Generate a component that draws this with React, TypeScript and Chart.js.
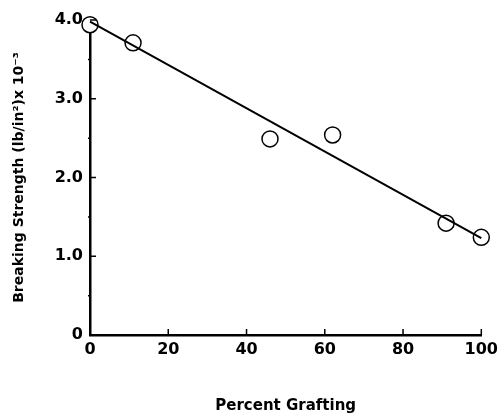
import React, { useEffect, useRef } from "react";
import { Chart, registerables } from "chart.js";

Chart.register(...registerables);

const grafting = [0, 11, 46, 62, 91, 100];
const strength = [3.94, 3.71, 2.49, 2.54, 1.42, 1.24];
const fitX = [0, 100];
const fitY = [3.98, 1.23];
const xTicks = [0, 20, 40, 60, 80, 100];
const yTicks = [0, 1, 2, 3, 4];
const yMinor = [0.5, 1.5, 2.5, 3.5];
const xTitle = "Percent Grafting";
const yTitle = "Breaking Strength (lb/in²)x 10⁻³";

const innerTicks = {
  id: "innerTicks",
  afterDraw(chart: any) {
    const ctx = chart.ctx;
    const xs = chart.scales.x;
    const ys = chart.scales.y;
    const left = chart.chartArea.left;
    const bottom = chart.chartArea.bottom;
    ctx.save();
    ctx.strokeStyle = "#000";
    ctx.lineWidth = 1.5;
    ctx.beginPath();
    xTicks.forEach((v) => {
      if (v === 0) return;
      const px = xs.getPixelForValue(v);
      ctx.moveTo(px, bottom);
      ctx.lineTo(px, bottom - 6);
    });
    yTicks.forEach((v) => {
      if (v === 0) return;
      const py = ys.getPixelForValue(v);
      ctx.moveTo(left, py);
      ctx.lineTo(left + 6, py);
    });
    yMinor.forEach((v) => {
      const py = ys.getPixelForValue(v);
      ctx.moveTo(left, py);
      ctx.lineTo(left - 2, py);
    });
    ctx.stroke();
    ctx.restore();
  },
};

export default function App() {
  const ref = useRef<HTMLCanvasElement | null>(null);
  useEffect(() => {
    if (!ref.current) return;
    const font = "'DejaVu Sans', sans-serif";
    const chart = new Chart(ref.current, {
      type: "scatter",
      data: {
        datasets: [
          {
            label: "fit",
            data: fitX.map((x, i) => ({ x, y: fitY[i] })),
            showLine: true,
            borderColor: "#000",
            borderWidth: 2,
            pointRadius: 0,
            clip: false as any,
          },
          {
            label: "data",
            data: grafting.map((x, i) => ({ x, y: strength[i] })),
            pointRadius: 8,
            pointBackgroundColor: "#fff",
            pointBorderColor: "#000",
            pointBorderWidth: 1.5,
            clip: false as any,
          },
        ],
      },
      options: {
        animation: false,
        responsive: false,
        layout: { padding: { left: 0, top: 20, right: 18, bottom: 0 } },
        plugins: { legend: { display: false }, tooltip: { enabled: false } },
        scales: {
          x: {
            type: "linear",
            min: 0,
            max: 100,
            afterBuildTicks: (s: any) => {
              s.ticks = xTicks.map((v) => ({ value: v }));
            },
            afterFit: (s: any) => {
              s.height = 82;
            },
            grid: { drawOnChartArea: false, drawTicks: false },
            border: { display: true, color: "#000", width: 2.5 },
            ticks: {
              color: "#000",
              padding: 5,
              font: { family: font, size: 16, weight: "bold" },
              maxRotation: 0,
            },
            title: {
              display: true,
              text: xTitle,
              color: "#000",
              font: { family: font, size: 15, weight: "bold" },
              padding: { top: 4, bottom: 2 },
            },
          },
          y: {
            type: "linear",
            min: 0,
            max: 4,
            afterBuildTicks: (s: any) => {
              s.ticks = yTicks.map((v) => ({ value: v }));
            },
            afterFit: (s: any) => {
              s.width = 90;
            },
            grid: { drawOnChartArea: false, drawTicks: false },
            border: { display: true, color: "#000", width: 2.5 },
            ticks: {
              color: "#000",
              padding: 7,
              font: { family: font, size: 16, weight: "bold" },
              callback: (v: any) => (v === 0 ? "0" : Number(v).toFixed(1)),
            },
            title: {
              display: true,
              text: yTitle,
              color: "#000",
              font: { family: font, size: 14, weight: "bold" },
              padding: { top: 11, bottom: 0 },
            },
          },
        },
      },
      plugins: [innerTicks],
    });
    return () => chart.destroy();
  }, []);
  return (
    <div style={{ position: "absolute", left: 0, top: 0, width: 503, height: 417, background: "#fff" }}>
      <canvas ref={ref} width={503} height={417} style={{ display: "block" }} />
    </div>
  );
}
